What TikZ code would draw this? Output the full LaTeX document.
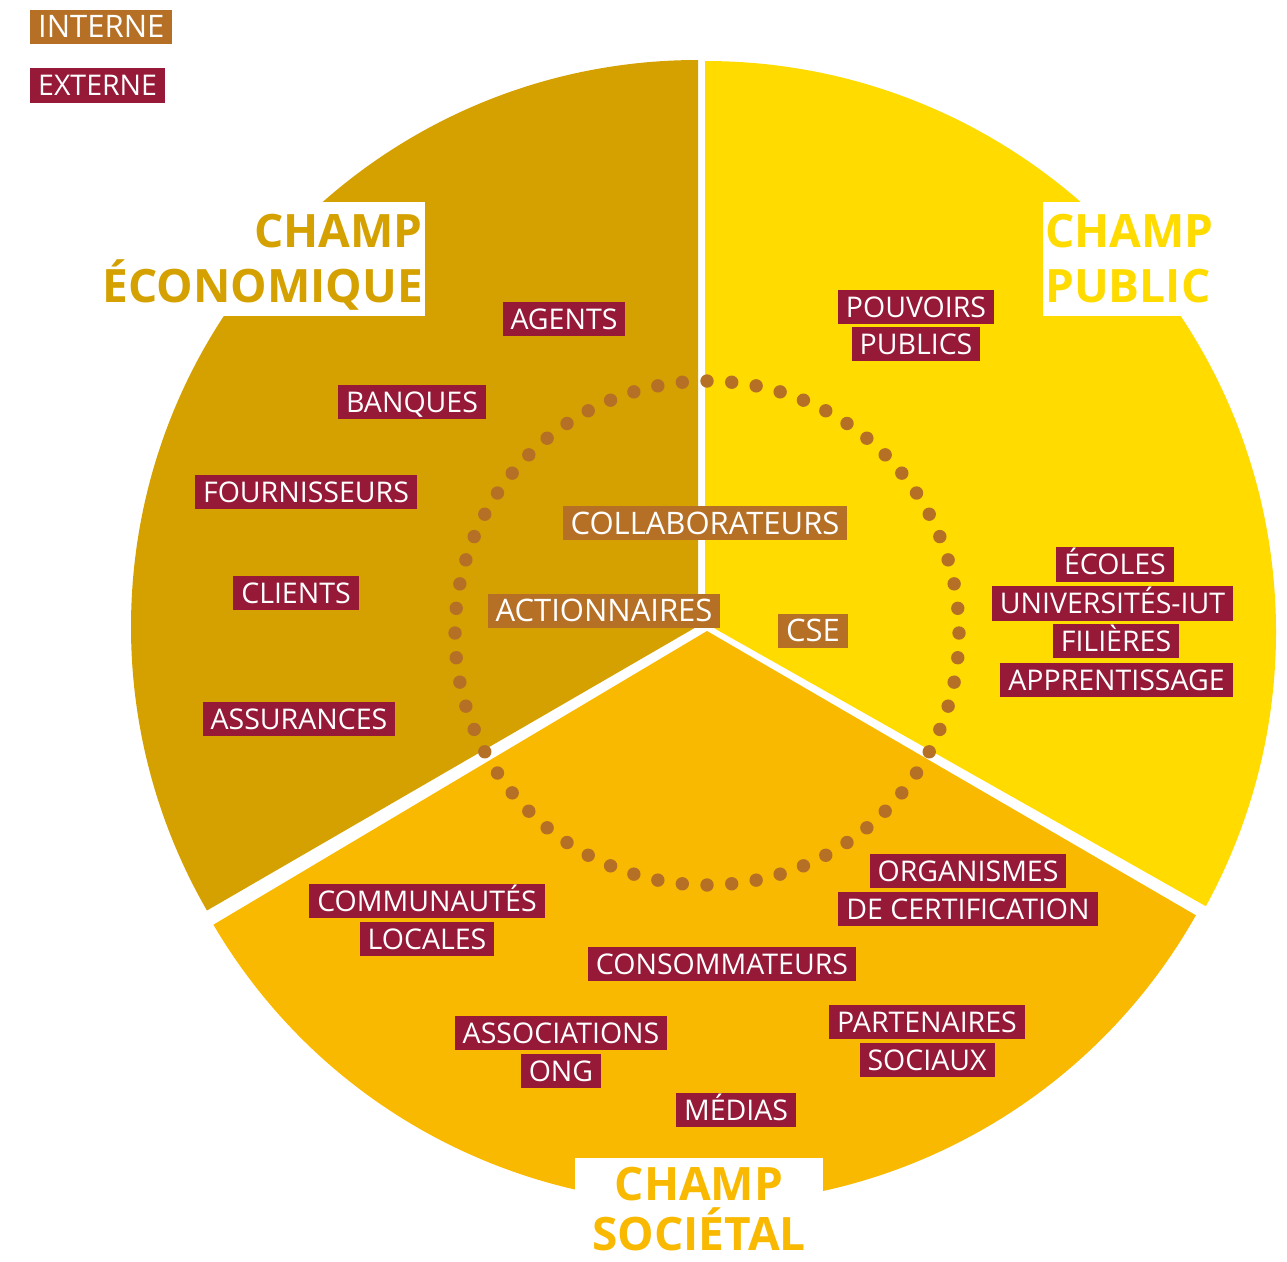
\documentclass[tikz,border=0pt]{standalone}
\usepackage{fontspec}
\setmainfont{Open Sans}
\newfontfamily\titlefont[FakeStretch=1.0]{Open Sans}
\definecolor{ecoC}{RGB}{213,161,0}
\definecolor{pubC}{RGB}{255,219,0}
\definecolor{socC}{RGB}{249,185,0}
\definecolor{intC}{RGB}{181,112,38}
\definecolor{extC}{RGB}{150,25,55}
\begin{document}
\begin{tikzpicture}[x=1pt,y=-1pt,
  ext/.style={fill=extC,text=white,font=\fontsize{28.5}{30}\selectfont,text height=20.3pt,text depth=0pt,inner xsep=8pt,inner ysep=7pt},
  int/.style={fill=intC,text=white,font=\fontsize{31}{33}\selectfont,text height=22pt,text depth=0pt,inner xsep=8pt,inner ysep=6pt},
  ttl/.style={font=\titlefont\bfseries\fontsize{46}{50}\selectfont,inner sep=0pt,text depth=0pt}]
\useasboundingbox (0,0) rectangle (1287,1261);
% sectors
\fill[ecoC] (698,626) -- (698,60) arc[start angle=-90,end angle=-210,radius=567] -- cycle;
\fill[pubC] (705,623) -- (705,61) arc[start angle=-90,end angle=28.7,radius=571] -- cycle;
\fill[socC] (707,631) -- (213.4,924.7) arc[start angle=-210.5,end angle=-330.6,radius=567] -- cycle;
% dotted ring
\foreach \i in {0,...,63} \fill[intC] (707,633) ++(\i*5.625:252) circle[radius=6.7];
% titles
\fill[white] (90,202) rectangle (425,316);
\node[ttl,text=ecoC,anchor=base east] (eco1) at (423,247) {CHAMP};
\node[ttl,text=ecoC,anchor=base east] (eco2) at (423,302) {ÉCONOMIQUE};
\fill[white] (1043,202) rectangle (1287,316);
\node[ttl,text=pubC,anchor=base west] (pub1) at (1045,247) {CHAMP};
\node[ttl,text=pubC,anchor=base west] (pub2) at (1045,302) {PUBLIC};
\fill[white] (575,1158) rectangle (823,1261);
\node[ttl,text=socC,anchor=base] (soc1) at (699,1200) {CHAMP};
\node[ttl,text=socC,anchor=base] (soc2) at (699,1250) {SOCIÉTAL};
% legend
\node[int,anchor=west] (interne) at (30,26.5) {INTERNE};
\node[ext,anchor=west] (externe) at (30,85.5) {EXTERNE};
% labels
\node[ext] (agents) at (564,319) {AGENTS};
\node[ext] (banques) at (412,402) {BANQUES};
\node[ext] (fourn) at (306,492) {FOURNISSEURS};
\node[ext] (clients) at (296,593) {CLIENTS};
\node[ext] (assur) at (299,719) {ASSURANCES};
\node[ext] (pouv) at (916,307) {POUVOIRS};
\node[ext] (publics) at (916,344) {PUBLICS};
\node[ext] (ecoles) at (1115,564.5) {ÉCOLES};
\node[ext] (univ) at (1112.5,603.5) {UNIVERSITÉS-IUT};
\node[ext] (filieres) at (1116,641) {FILIÈRES};
\node[ext] (appr) at (1116.5,680) {APPRENTISSAGE};
\node[int] (collab) at (705,523) {COLLABORATEURS};
\node[int] (action) at (604,610.5) {ACTIONNAIRES};
\node[int] (cse) at (813,630.5) {CSE};
\node[ext] (orga) at (968,871) {ORGANISMES};
\node[ext] (certif) at (968,909) {DE CERTIFICATION};
\node[ext] (commu) at (427,901) {COMMUNAUTÉS};
\node[ext] (locales) at (427,939) {LOCALES};
\node[ext] (conso) at (722,964) {CONSOMMATEURS};
\node[ext] (assoc) at (561,1033) {ASSOCIATIONS};
\node[ext] (ong) at (561,1071) {ONG};
\node[ext] (parten) at (927,1022) {PARTENAIRES};
\node[ext] (sociaux) at (927,1060) {SOCIAUX};
\node[ext] (medias) at (736,1110) {MÉDIAS};
\end{tikzpicture}
\end{document}
